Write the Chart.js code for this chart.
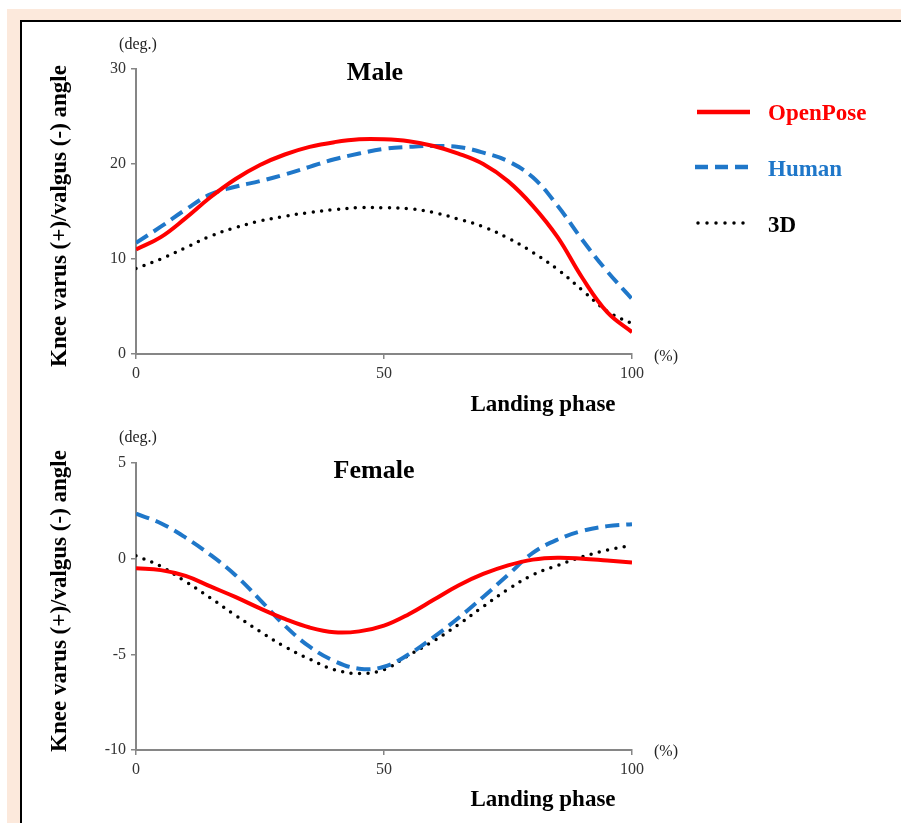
<!DOCTYPE html>
<html><head><meta charset="utf-8">
<script src="https://cdn.jsdelivr.net/npm/chart.js@4"></script>
<style>
html,body{margin:0;padding:0;background:#fff;width:901px;height:823px;overflow:hidden;font-family:"Liberation Serif","Times New Roman",serif;}
#peach{position:absolute;left:7px;top:9px;right:0;bottom:0;background:#FCE9DC;}
#panel{position:absolute;left:20px;top:20px;right:0;bottom:0;background:#fff;border-left:2px solid #000;border-top:2px solid #000;}
canvas{position:absolute;left:0;top:0;}
.t{position:absolute;white-space:nowrap;transform:translate(-50%,-50%);line-height:1;}
.unit{font-size:16px;color:#222;}
.ttl{font-size:26px;font-weight:bold;color:#000;}
.xt{font-size:23px;font-weight:bold;color:#000;}
.yt{font-size:23px;font-weight:bold;color:#000;transform:translate(-50%,-50%) rotate(-90deg);}
.lg{position:absolute;white-space:nowrap;font-size:23px;font-weight:bold;transform:translateY(-50%);line-height:1;}
#legendsvg{position:absolute;left:0;top:0;}
</style>
</head><body>
<div id="peach"></div>
<div id="panel"></div>
<canvas id="male" width="901" height="823"></canvas>
<canvas id="female" width="901" height="823"></canvas>

<div class="t unit" style="left:138px;top:44px;">(deg.)</div>
<div class="t ttl" style="left:375px;top:72px;">Male</div>
<div class="t unit" style="left:666px;top:356px;">(%)</div>
<div class="t xt" style="left:543px;top:403px;">Landing phase</div>
<div class="t yt" style="left:58px;top:216px;">Knee varus (+)/valgus (-) angle</div>

<div class="t unit" style="left:138px;top:437px;">(deg.)</div>
<div class="t ttl" style="left:374px;top:470px;">Female</div>
<div class="t unit" style="left:666px;top:751px;">(%)</div>
<div class="t xt" style="left:543px;top:798px;">Landing phase</div>
<div class="t yt" style="left:58px;top:601px;">Knee varus (+)/valgus (-) angle</div>

<svg id="legendsvg" width="901" height="823">
  <line x1="697" y1="112" x2="750" y2="112" stroke="#FF0000" stroke-width="4.5"/>
  <line x1="695" y1="167" x2="752" y2="167" stroke="#1F77C9" stroke-width="4.5" stroke-dasharray="13 7"/>
  <line x1="698" y1="223" x2="752" y2="223" stroke="#000" stroke-width="3.5" stroke-linecap="round" stroke-dasharray="0 9"/>
</svg>
<div class="lg" style="left:768px;top:112px;color:#FF0000;">OpenPose</div>
<div class="lg" style="left:768px;top:168px;color:#1F77C9;">Human</div>
<div class="lg" style="left:768px;top:224px;color:#000;">3D</div>

<script>
// Landing phase (%)
const phase = [0,5,10,15,20,25,30,35,40,45,50,55,60,65,70,75,80,85,90,95,100];
const seriesNames = ['OpenPose','Human','3D'];

// Male (deg.)
const maleOpenPose = [11.0,12.3,14.3,16.5,18.4,19.9,21.0,21.8,22.3,22.6,22.6,22.4,21.9,21.1,20.0,18.2,15.6,12.3,8.0,4.4,2.3];
const maleHuman    = [11.7,13.4,15.2,16.8,17.6,18.2,18.9,19.7,20.5,21.1,21.6,21.8,21.9,21.8,21.2,20.3,18.6,15.6,12.0,8.7,5.8];
const male3D       = [9.0,10.0,11.2,12.4,13.3,14.0,14.5,14.9,15.2,15.4,15.4,15.3,14.9,14.2,13.4,12.2,10.7,8.9,6.7,4.5,3.2];

// Female (deg.)
const femaleOpenPose = [-0.5,-0.6,-0.9,-1.45,-2.0,-2.6,-3.15,-3.6,-3.85,-3.8,-3.5,-2.9,-2.15,-1.4,-0.8,-0.35,-0.05,0.05,0.0,-0.1,-0.2];
const femaleHuman    = [2.35,1.85,1.1,0.2,-0.85,-2.15,-3.5,-4.6,-5.35,-5.75,-5.65,-5.0,-4.1,-3.1,-2.0,-0.85,0.3,1.0,1.45,1.7,1.8];
const female3D       = [0.15,-0.4,-1.2,-2.05,-2.95,-3.8,-4.6,-5.25,-5.8,-6.0,-5.8,-5.05,-4.3,-3.45,-2.5,-1.6,-0.85,-0.35,0.1,0.45,0.7];

// Tick settings
const xTicks = [0, 50, 100];
const maleYRange = [0, 30, 10];
const femaleYRange = [-10, 5, 5];

const AXIS = '#868686';
const TICKC = '#333333';
const FONT = '"Liberation Serif","Times New Roman",serif';

function pts(vals){ return phase.map((x,i)=>({x:x, y:vals[i]})); }

function makeChart(id, areaTop, areaBottom, yr, op, hu, d3){
  const H = 823;
  return new Chart(document.getElementById(id), {
    type: 'line',
    data: {
      datasets: [
        {label: seriesNames[0], data: pts(op), borderColor:'#FF0000', borderWidth:4, tension:0.4, pointRadius:0, fill:false},
        {label: seriesNames[1], data: pts(hu), borderColor:'#1F77C9', borderWidth:4, borderDash:[14,7], tension:0.4, pointRadius:0, fill:false},
        {label: seriesNames[2], data: pts(d3), borderColor:'#000000', borderWidth:3.5, borderDash:[0,8.5], borderCapStyle:'round', tension:0.4, pointRadius:0, fill:false}
      ]
    },
    options: {
      responsive:false, animation:false, devicePixelRatio:1,
      layout:{padding:{top:areaTop, left:0, right:901-632, bottom:0}},
      plugins:{legend:{display:false}, tooltip:{enabled:false}, title:{display:false}},
      scales:{
        x:{
          type:'linear', min:0, max:100,
          afterBuildTicks: s => { s.ticks = xTicks.map(v=>({value:v})); },
          afterFit: s => { s.height = H - areaBottom; },
          grid:{display:true, drawOnChartArea:false, drawTicks:true, tickLength:5, color:AXIS, lineWidth:1.5},
          border:{display:true, color:AXIS, width:2},
          ticks:{color:TICKC, font:{family:FONT, size:16}, padding:5, maxRotation:0, autoSkip:false}
        },
        y:{
          min:yr[0], max:yr[1],
          ticks:{stepSize:yr[2], color:TICKC, font:{family:FONT, size:16}, padding:5},
          afterFit: s => { s.width = 136; },
          grid:{display:true, drawOnChartArea:false, drawTicks:true, tickLength:5, color:AXIS, lineWidth:1.5},
          border:{display:true, color:AXIS, width:2}
        }
      }
    }
  });
}

makeChart('male', 69, 354, maleYRange, maleOpenPose, maleHuman, male3D);
makeChart('female', 463, 750, femaleYRange, femaleOpenPose, femaleHuman, female3D);
</script>
</body></html>
